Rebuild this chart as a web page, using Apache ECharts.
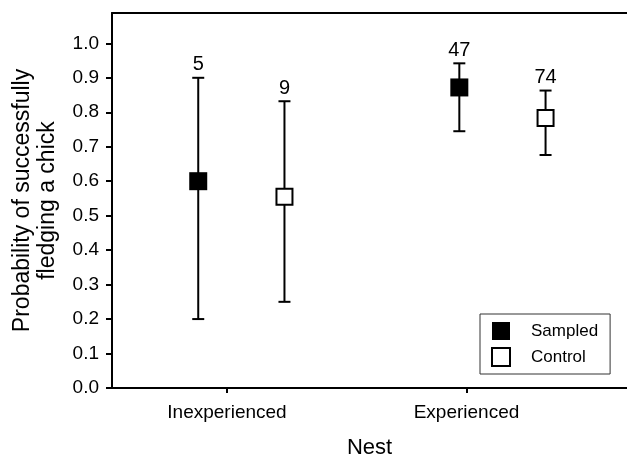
<!DOCTYPE html>
<html>
<head>
<meta charset="utf-8">
<script src="https://cdn.jsdelivr.net/npm/echarts@6/dist/echarts.min.js"></script>
<style>html,body{margin:0;padding:0;background:#fff;}#chart{width:627px;height:458px;}</style>
</head>
<body>
<div id="chart"></div>
<script>
var categories = ['Inexperienced', 'Experienced'];
var categoryX = [1, 2];
var sampledX = [0.88, 1.97];
var controlX = [1.24, 2.33];
var sampledMean = [0.600, 0.872];
var sampledLow = [0.200, 0.745];
var sampledHigh = [0.900, 0.942];
var sampledN = [5, 47];
var controlMean = [0.555, 0.783];
var controlLow = [0.250, 0.676];
var controlHigh = [0.832, 0.863];
var controlN = [9, 74];
var yTicks = [0, 0.1, 0.2, 0.3, 0.4, 0.5, 0.6, 0.7, 0.8, 0.9, 1.0];

var FONT = '"Liberation Sans", Arial, sans-serif';

function pts(xs, ys) { return xs.map(function (x, i) { return [x, ys[i]]; }); }
function bars(xs, lo, hi, n) { return xs.map(function (x, i) { return [x, lo[i], hi[i], n[i]]; }); }

function renderErr(params, api) {
  var x = api.value(0), lo = api.value(1), hi = api.value(2), n = api.value(3);
  var a = api.coord([x, lo]), b = api.coord([x, hi]);
  var cw = 6;
  var st = { stroke: '#000', lineWidth: 2 };
  return {
    type: 'group',
    children: [
      { type: 'line', shape: { x1: a[0], y1: a[1], x2: b[0], y2: b[1] }, style: st },
      { type: 'line', shape: { x1: a[0] - cw, y1: a[1], x2: a[0] + cw, y2: a[1] }, style: st },
      { type: 'line', shape: { x1: b[0] - cw, y1: b[1], x2: b[0] + cw, y2: b[1] }, style: st },
      { type: 'text', style: { text: String(n), x: b[0], y: b[1] - 3, align: 'center', verticalAlign: 'bottom', fontSize: 20, fontFamily: FONT, fill: '#000' } }
    ]
  };
}

var chart = echarts.init(document.getElementById('chart'));
chart.setOption({
  animation: false,
  backgroundColor: '#fff',
  textStyle: { fontFamily: FONT, color: '#000' },
  grid: { left: 112, right: 0, top: 13, bottom: 70, containLabel: false, outerBoundsMode: 'none' },
  legend: {
    orient: 'vertical',
    left: 480, top: 314,
    padding: [8, 12, 7, 11],
    itemWidth: 18, itemHeight: 18, itemGap: 7,
    borderColor: '#333', borderWidth: 1,
    textStyle: { fontSize: 17, fontFamily: FONT, color: '#000', padding: [0, 0, 0, 16] },
    data: ['Sampled', 'Control']
  },
  xAxis: [{
    type: 'value', min: 0.52, max: 2.67,
    name: 'Nest', nameLocation: 'middle', nameGap: 49,
    nameTextStyle: { fontSize: 22, fontFamily: FONT, color: '#000' },
    axisLine: { onZero: false, lineStyle: { color: '#000', width: 2 } },
    axisTick: { show: true, customValues: categoryX, length: 5, lineStyle: { color: '#000', width: 2 } },
    axisLabel: { customValues: categoryX, margin: 15, fontSize: 19, fontFamily: FONT, color: '#000',
      formatter: function (v) { var i = categoryX.indexOf(v); return i >= 0 ? categories[i] : ''; } },
    splitLine: { show: false }
  }, {
    type: 'value', position: 'top', min: 0.52, max: 2.67,
    axisLine: { show: true, onZero: false, lineStyle: { color: '#000', width: 2 } },
    axisTick: { show: false }, axisLabel: { show: false }, splitLine: { show: false }
  }],
  yAxis: {
    type: 'value', min: 0, max: 1.088,
    name: 'Probability of successfully\nfledging a chick',
    nameLocation: 'middle', nameGap: 52,
    nameTextStyle: { fontSize: 23, fontFamily: FONT, color: '#000', lineHeight: 25 },
    axisLine: { show: true, onZero: false, lineStyle: { color: '#000', width: 2 } },
    axisTick: { show: true, customValues: yTicks, length: 6, lineStyle: { color: '#000', width: 2 } },
    axisLabel: { customValues: yTicks, margin: 13, fontSize: 19, fontFamily: FONT, color: '#000',
      formatter: function (v) { return v.toFixed(1); } },
    splitLine: { show: false }
  },
  series: [
    { type: 'custom', name: 'errS', renderItem: renderErr, data: bars(sampledX, sampledLow, sampledHigh, sampledN), encode: { x: 0, y: [1, 2] }, z: 2, silent: true },
    { type: 'custom', name: 'errC', renderItem: renderErr, data: bars(controlX, controlLow, controlHigh, controlN), encode: { x: 0, y: [1, 2] }, z: 2, silent: true },
    { type: 'scatter', name: 'Sampled', symbol: 'rect', symbolSize: 18, data: pts(sampledX, sampledMean),
      itemStyle: { color: '#000', opacity: 1 }, z: 5 },
    { type: 'scatter', name: 'Control', symbol: 'rect', symbolSize: 16, data: pts(controlX, controlMean),
      itemStyle: { color: '#fff', borderColor: '#000', borderWidth: 2, opacity: 1 }, z: 5 }
  ]
});
</script>
</body>
</html>
